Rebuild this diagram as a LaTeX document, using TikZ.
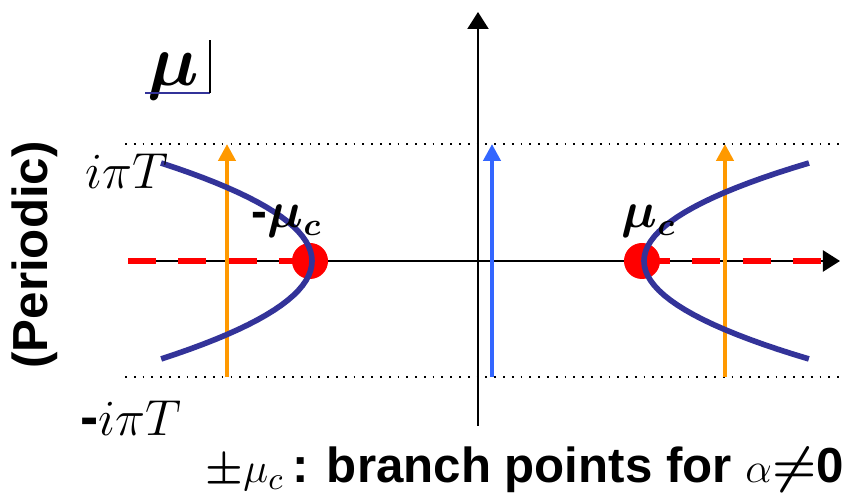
\documentclass[tikz,border=0pt]{standalone}
\usepackage{amsmath,amssymb,bm}
\usepackage{fontspec}
\setmainfont{Liberation Sans}
\usetikzlibrary{arrows.meta}
\newcommand{\YAX}{261}
\newcommand{\YTOP}{144}
\newcommand{\YBOT}{377}
\newcommand{\XL}{312}
\newcommand{\XR}{644}
\newcommand{\mathsz}[1]{{\fontsize{13}{14}\selectfont#1}}
\definecolor{cutblue}{RGB}{51,51,153}
\definecolor{pathorange}{RGB}{255,153,0}
\definecolor{pathblue}{RGB}{51,102,255}

\begin{document}
\begin{tikzpicture}[
    x=0.01cm, y=-0.01cm,
    >={Triangle[length=1.7mm,width=2.1mm]},
    axis/.style={draw=black, line width=0.6pt},
    guide/.style={draw=black, line width=0.5pt, dotted},
    cutline/.style={draw=red, line width=1.5pt, dash pattern=on 8pt off 6.3pt},
    bp/.style={circle, fill=red, minimum size=3.6mm, inner sep=0pt},
    branch/.style={draw=cutblue, line width=1.6pt},
    contour/.style={line width=1.2pt, -{Triangle[length=1.7mm,width=1.7mm]}},
    tag/.style={font=\fontsize{15.5}{18}\selectfont},
    lab/.style={font=\fontsize{13.5}{16}\selectfont},
    txt/.style={font=\fontsize{14}{16}\selectfont\bfseries},
  ]
  \useasboundingbox (0,0) rectangle (854,498);

  %% ================= the strip  -i pi T < Im mu < i pi T =================
  \coordinate (gl1) at (125,\YTOP);  \coordinate (gr1) at (845,\YTOP);
  \coordinate (gl2) at (125,\YBOT);  \coordinate (gr2) at (845,\YBOT);
  \draw[guide] (gl1) -- (gr1);
  \draw[guide] (gl2) -- (gr2);

  %% ================= axes =================
  \coordinate (xs) at (128,\YAX);  \coordinate (xe) at (840,\YAX);
  \coordinate (ys) at (478,426);   \coordinate (ye) at (478,12);
  \draw[axis,->] (xs) -- (xe);
  \draw[axis,->] (ys) -- (ye);

  %% ================= branch points and cuts =================
  \node[bp] (mL) at (310,\YAX) {};
  \node[bp] (mR) at (642,\YAX) {};
  \draw[cutline] (xs) -- (mL.center);
  \draw[cutline] (mR.center) -- (824,\YAX);

  % the integration paths
  \foreach \x/\c in {227/pathorange, 492/pathblue, 725/pathorange} {
    \draw[contour, draw=\c, \c] (\x,\YBOT) -- (\x,\YTOP);
  }

  % the curves through the branch points
  \draw[branch] plot[domain=-1:1, samples=41, variable=\t] ({\XL-151*\t*\t}, {\YAX+98*\t});
  \draw[branch] plot[domain=-1:1, samples=41, variable=\t] ({\XR+165*\t*\t}, {\YAX+98*\t});

  %% ================= labels =================
  \node[tag] (ipt)  at (127,171) {$i\pi T$};
  \node[tag] (mipt) at (131,418) {\textbf{-}$i\pi T$};
  \node[lab, anchor=base] (lmL) at (287,228) {\textbf{-}$\bm{\mu}_{\bm{c}}$};
  \node[lab, anchor=base] (lmR) at (649,228) {$\bm{\mu}_{\bm{c}}$};

  \node[font=\fontsize{21}{24}\selectfont] (mu) at (173,76) {$\bm{\mu}$};
  \coordinate (c1) at (145,93); \coordinate (c2) at (210,93); \coordinate (c3) at (210,40);
  \draw[cutblue, line width=0.6pt] (c1) -- (c2);
  \draw[black, line width=0.6pt] (c2) -- (c3);

  \node[txt, rotate=90] (per) at (35,255) {(Periodic)};
  \node[txt, anchor=base west, inner sep=0pt] (cap) at (205,483)
    {\mathsz{$\bm{\pm}\mu_c$}\,: branch points for \mathsz{$\alpha$}{\fontsize{14}{16}\selectfont$\bm{\neq}$}0};

\end{tikzpicture}
\end{document}
